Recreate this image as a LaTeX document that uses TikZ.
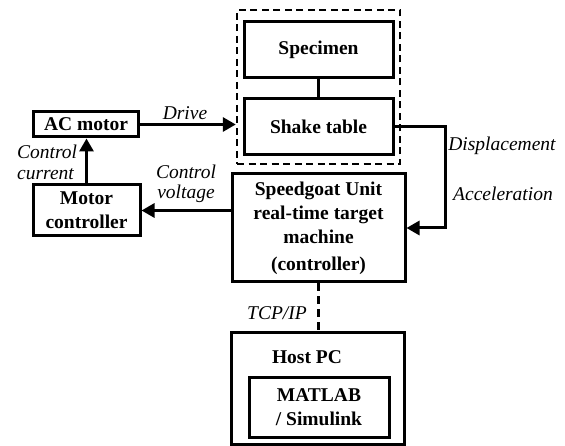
\documentclass[tikz,border=0pt]{standalone}
\usepackage{fontspec}
\setmainfont{Liberation Serif}
\usetikzlibrary{arrows.meta}

\tikzset{
  blk/.style={draw, line width=3pt, inner sep=0pt, align=center,
    font=\fontsize{19.5}{24}\selectfont\bfseries},
  lbl/.style={inner sep=0pt, font=\fontsize{19.5}{24}\selectfont\itshape},
  conn/.style={line width=3pt},
  arr/.style={conn, -{Triangle[length=13pt,width=14pt]}},
  grp/.style={draw, line width=2.4pt, dash pattern=on 7pt off 4.5pt, inner sep=0pt}
}

\begin{document}
\begin{tikzpicture}[x=1pt,y=-1pt]
\useasboundingbox (0,0) rectangle (565,446);

% test rig: specimen on the shake table
\node[grp, minimum width=163pt, minimum height=154pt] (rig) at (318.5,87) {};
\node[blk, minimum width=149pt, minimum height=56pt] (spec) at (318.5,50) {Specimen};
\node[blk, minimum width=149pt, minimum height=56pt] (shake) at (318.5,127) {Shake table};

% drive chain
\node[blk, minimum width=105pt, minimum height=25pt] (acm) at (86,124.5) {AC motor};
\node[blk, minimum width=107pt, minimum height=51pt] (mc) at (86.5,210.5) {Motor\\controller};

% controller and host
\node[blk, minimum width=173pt, minimum height=108pt] (sg) at (318.5,228)
  {Speedgoat Unit\\real-time target\\machine\\[3pt](controller)};
\node[draw, line width=3pt, minimum width=173pt, minimum height=111pt, inner sep=0pt] (host) at (317.5,388.5) {};
\node[inner sep=0pt, font=\fontsize{19.5}{24}\selectfont\bfseries] (hostlbl) at (307,357) {Host PC};
\node[blk, minimum width=140pt, minimum height=60pt] (ml) at (319,407) {MATLAB\\/ Simulink};

% connectors
\draw[conn] (spec.south) -- (shake.north);
\draw[arr] (acm.east) -- (acm.east -| rig.west);
\draw[arr] (mc.north) -- (mc.north |- acm.south);
\draw[arr] (sg.west |- mc.east) -- (mc.east);
\draw[arr] (shake.east) -- ++(51,0) coordinate (fb) |- (sg.east);
\draw[conn, dash pattern=on 8pt off 5pt] (sg.south) -- (sg.south |- host.north);

% signal labels
\node[lbl] (ldrive) at (185,113) {Drive};
\node[lbl, anchor=west] (lcc1) at (17,152) {Control};
\node[lbl, anchor=west] (lcc2) at (17,174) {current};
\node[lbl] (lcv1) at (186,172) {Control};
\node[lbl] (lcv2) at (186,194) {voltage};
\node[lbl] (ldisp) at (502,146) {Displacement};
\node[lbl] (lacc) at (503,194) {Acceleration};
\node[lbl] (ltcp) at (277,313) {TCP/IP};
\end{tikzpicture}
\end{document}
